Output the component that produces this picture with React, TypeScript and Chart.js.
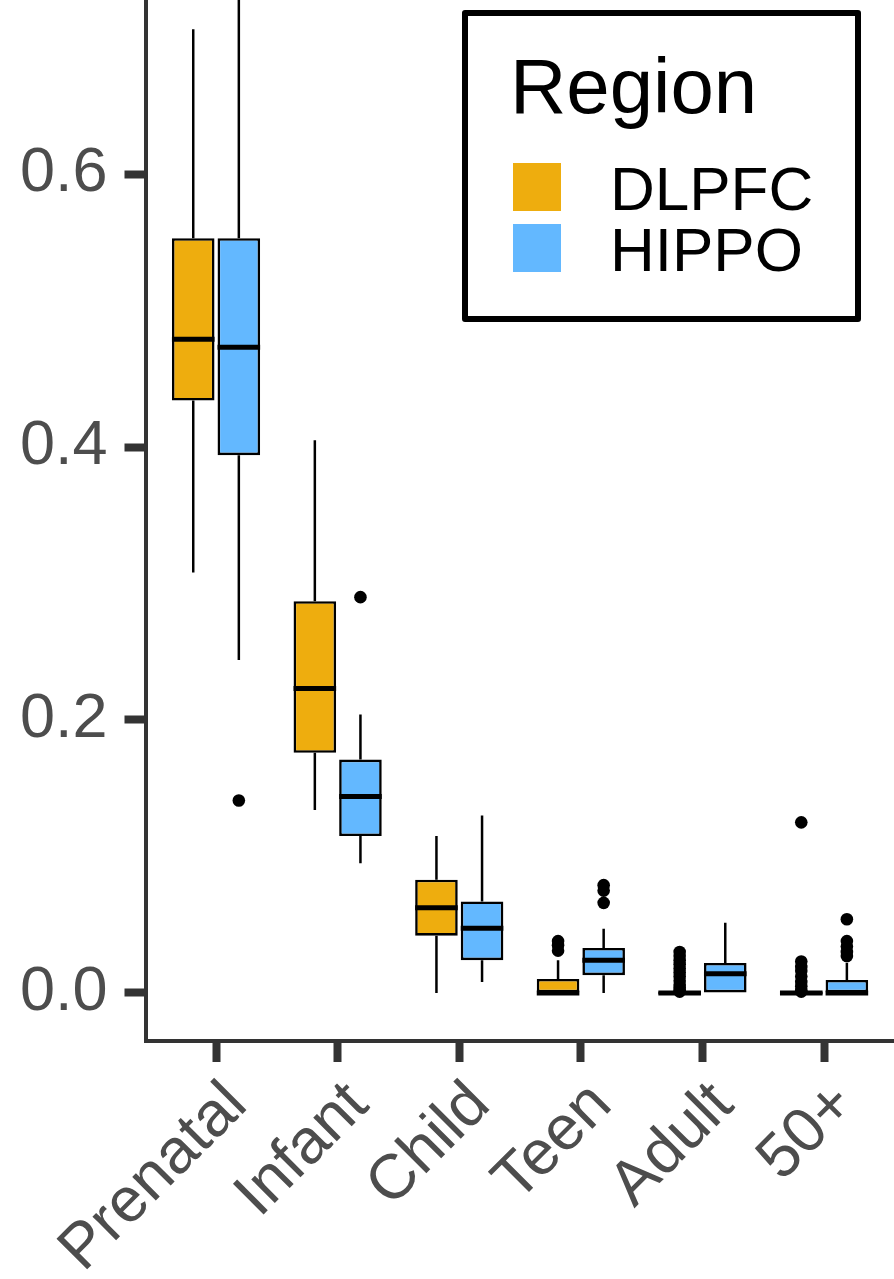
import { useEffect, useRef } from 'react';
import { Chart, registerables } from 'chart.js';

Chart.register(...registerables);

// ---------- data ----------
const AGE_GROUPS = ['Prenatal', 'Infant', 'Child', 'Teen', 'Adult', '50+'];
const Y_TICKS = [0, 0.2, 0.4, 0.6];
const REGIONS = ['DLPFC', 'HIPPO'];
const REGION_COLORS = ['#EEAD0E', '#63B8FF'];
const LEGEND_TITLE = 'Region';

const DLPFC_LOWER = [0.308, 0.134, 0.0, 0.0, 0.0, 0.0];
const DLPFC_Q1 = [0.434, 0.176, 0.042, 0.0, 0.0, 0.0];
const DLPFC_MEDIAN = [0.479, 0.223, 0.0625, 0.0, 0.0, 0.0];
const DLPFC_Q3 = [0.553, 0.287, 0.083, 0.0103, 0.0, 0.0];
const DLPFC_UPPER = [0.706, 0.405, 0.115, 0.024, 0.0, 0.0];
const DLPFC_OUTLIERS = [
  [],
  [],
  [],
  [0.038, 0.035, 0.031],
  [0.03, 0.027, 0.024, 0.021, 0.018, 0.015, 0.012, 0.009, 0.006, 0.004, 0.002, 0.001],
  [0.125, 0.023, 0.019, 0.016, 0.012, 0.008, 0.005, 0.002, 0.001],
];

const HIPPO_LOWER = [0.244, 0.095, 0.008, 0.0, 0.0, 0.0];
const HIPPO_Q1 = [0.394, 0.115, 0.024, 0.013, 0.0, 0.0];
const HIPPO_MEDIAN = [0.473, 0.144, 0.0474, 0.024, 0.014, 0.0];
const HIPPO_Q3 = [0.553, 0.171, 0.067, 0.033, 0.022, 0.0095];
const HIPPO_UPPER = [0.78, 0.204, 0.13, 0.047, 0.0515, 0.022];
const HIPPO_OUTLIERS = [
  [0.141],
  [0.29],
  [],
  [0.079, 0.075, 0.066],
  [],
  [0.054, 0.038, 0.034, 0.03, 0.027],
];

// ---------- layout / style ----------
const W = 894;
const H = 1279;
const CATEGORY_PCT = 0.75;
const BAR_PCT = 0.934;
const DODGE = CATEGORY_PCT / 4;
const FONT = "'Liberation Sans', Arial, Helvetica, sans-serif";
const AXIS_COLOR = '#333333';
const TICK_TEXT = '#4D4D4D';

const SUMMARIES = [
  { low: DLPFC_LOWER, q1: DLPFC_Q1, med: DLPFC_MEDIAN, q3: DLPFC_Q3, high: DLPFC_UPPER, out: DLPFC_OUTLIERS },
  { low: HIPPO_LOWER, q1: HIPPO_Q1, med: HIPPO_MEDIAN, q3: HIPPO_Q3, high: HIPPO_UPPER, out: HIPPO_OUTLIERS },
];

const boxPlugin = {
  id: 'boxWhiskers',
  afterDatasetsDraw(chart: any) {
    const ctx = chart.ctx;
    const ys = chart.scales.y;
    const a = chart.chartArea;
    ctx.save();
    ctx.beginPath();
    ctx.rect(a.left, a.top, a.right - a.left, a.bottom - a.top);
    ctx.clip();
    SUMMARIES.forEach((s, di) => {
      const meta = chart.getDatasetMeta(di);
      meta.data.forEach((el: any, j: number) => {
        const { x, width } = el.getProps(['x', 'width'], true);
        const py = (v: number) => ys.getPixelForValue(v);
        ctx.strokeStyle = '#000';
        ctx.lineCap = 'butt';
        ctx.lineWidth = 2.5;
        ctx.beginPath();
        ctx.moveTo(x, py(s.q3[j]));
        ctx.lineTo(x, py(s.high[j]));
        ctx.moveTo(x, py(s.q1[j]));
        ctx.lineTo(x, py(s.low[j]));
        ctx.stroke();
        if (s.q3[j] === s.q1[j]) {
          ctx.lineWidth = 2.5;
          ctx.strokeRect(x - width / 2, py(s.q3[j]), width, 0);
        }
        ctx.lineWidth = 5;
        ctx.beginPath();
        ctx.moveTo(x - width / 2, py(s.med[j]));
        ctx.lineTo(x + width / 2, py(s.med[j]));
        ctx.stroke();
      });
    });
    ctx.restore();
  },
};

const legendPlugin = {
  id: 'boxLegend',
  afterDraw(chart: any) {
    const ctx = chart.ctx;
    ctx.save();
    ctx.fillStyle = '#fff';
    ctx.fillRect(465, 13, 393, 306);
    ctx.strokeStyle = '#000';
    ctx.lineWidth = 6;
    ctx.lineJoin = 'round';
    ctx.strokeRect(465, 13, 393, 306);
    ctx.fillStyle = '#000';
    ctx.textAlign = 'left';
    ctx.textBaseline = 'alphabetic';
    ctx.font = `78px ${FONT}`;
    ctx.fillText(LEGEND_TITLE, 510, 113);
    ctx.font = `62px ${FONT}`;
    REGIONS.forEach((_, i) => {
      const ds = chart.data.datasets[i];
      const top = 163 + i * 61;
      ctx.fillStyle = ds.backgroundColor;
      ctx.fillRect(513, top, 48, 48);
      ctx.fillStyle = '#000';
      ctx.fillText(ds.label, 610, top + 47);
    });
    ctx.restore();
  },
};

export default function App() {
  const ref = useRef<HTMLCanvasElement>(null);
  useEffect(() => {
    const barSets = SUMMARIES.map((s, di) => ({
      type: 'bar' as const,
      label: REGIONS[di],
      data: AGE_GROUPS.map((_, i) => ({ x: i + 1, y: [s.q1[i], s.q3[i]] })),
      backgroundColor: REGION_COLORS[di],
      borderColor: '#000',
      borderWidth: 2.6,
      borderSkipped: false as const,
      categoryPercentage: CATEGORY_PCT,
      barPercentage: BAR_PCT,
      order: 0,
    }));
    const outlierSets = SUMMARIES.map((s, di) => ({
      type: 'scatter' as const,
      label: REGIONS[di] + ' outliers',
      data: s.out.flatMap((vals, i) =>
        vals.map((v) => ({ x: i + 1 + (di === 0 ? -DODGE : DODGE), y: v }))
      ),
      backgroundColor: '#000',
      borderWidth: 0,
      pointRadius: 6.3,
      showLine: false,
      order: 1,
    }));
    const tickGrid = {
      display: true,
      drawOnChartArea: false,
      drawTicks: true,
      offset: false,
      tickLength: 21,
      tickWidth: 8,
      tickColor: AXIS_COLOR,
    };
    const chart = new Chart(ref.current as HTMLCanvasElement, {
      type: 'bar',
      data: { datasets: [...barSets, ...outlierSets] as any },
      options: {
        responsive: false,
        animation: false,
        events: [],
        layout: { padding: 0, autoPadding: false },
        plugins: { legend: { display: false }, tooltip: { enabled: false } },
        scales: {
          x: {
            type: 'linear',
            min: 0.42,
            max: 6.575,
            offset: false,
            grid: tickGrid,
            border: { display: true, color: AXIS_COLOR, width: 4 },
            afterBuildTicks: (scale: any) => {
              scale.ticks = AGE_GROUPS.map((_, i) => ({ value: i + 1 }));
            },
            afterFit: (scale: any) => {
              scale.height = H - 1041;
              scale.paddingLeft = 0;
              scale.paddingRight = 0;
            },
            ticks: {
              autoSkip: false,
              maxRotation: 45,
              minRotation: 45,
              padding: 6,
              labelOffset: 21,
              color: TICK_TEXT,
              font: { family: FONT, size: 63 },
              callback: (_v: any, i: number) => AGE_GROUPS[i],
            },
          },
          y: {
            type: 'linear',
            min: -0.0352,
            max: 0.7275,
            grid: tickGrid,
            border: { display: true, color: AXIS_COLOR, width: 4 },
            afterBuildTicks: (scale: any) => {
              scale.ticks = Y_TICKS.map((v) => ({ value: v }));
            },
            afterFit: (scale: any) => {
              scale.width = 145.5;
              scale.paddingTop = 0;
              scale.paddingBottom = 0;
            },
            ticks: {
              padding: 17,
              color: TICK_TEXT,
              font: { family: FONT, size: 63 },
              callback: (v: any) => Number(v).toFixed(1),
            },
          },
        },
      },
      plugins: [boxPlugin, legendPlugin],
    } as any);
    return () => chart.destroy();
  }, []);
  return (
    <div
      style={{
        position: 'absolute',
        left: 0,
        top: 0,
        width: W,
        height: H,
        overflow: 'hidden',
        background: '#fff',
      }}
    >
      <canvas ref={ref} width={W} height={H} style={{ display: 'block', width: W, height: H }} />
    </div>
  );
}
